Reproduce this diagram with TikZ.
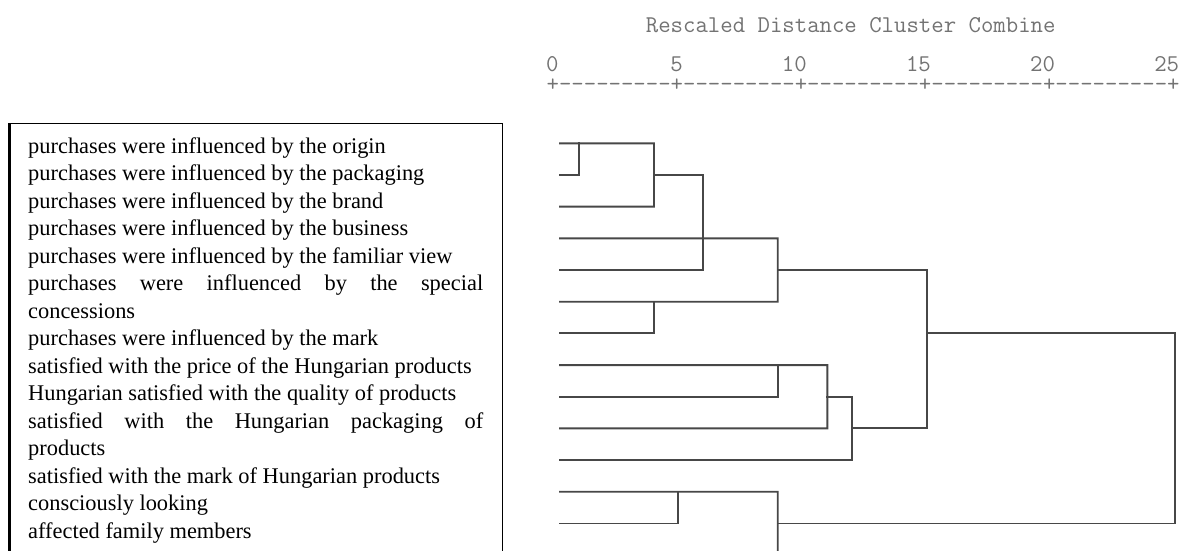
\documentclass[tikz,border=0pt]{standalone}
\usepackage{fontspec}
\setmainfont{Liberation Serif}[Ligatures=NoCommon]
\begin{document}
\begin{tikzpicture}[x=1pt,y=-1pt,
  lbl/.style={anchor=base west, inner sep=0pt, font=\fontsize{22.4}{27.5}\selectfont},
  den/.style={draw=black!72, line width=1.9pt, line cap=rect},
  mono/.style={inner sep=0pt, font=\ttfamily\fontsize{24.1}{26}\selectfont, text=black!55},
  boxline/.style={draw=black, line width=1.1pt}]
\useasboundingbox (0,0) rectangle (1184,551);
\clip (0,0) rectangle (1184,551);

% ---------- axis header ----------
\node[mono, anchor=base west] (title) at (645.7,33) {Rescaled Distance Cluster Combine};
\node[mono, anchor=base east] (n0)  at (558.8,72) {0};
\node[mono, anchor=base east] (n5)  at (682.9,72) {5};
\node[mono, anchor=base east] (n10) at (807.0,72) {10};
\node[mono, anchor=base east] (n15) at (931.1,72) {15};
\node[mono, anchor=base east] (n20) at (1055.2,72) {20};
\node[mono, anchor=base east] (n25) at (1179.3,72) {25};
\node[mono, anchor=base west] (axisline) at (546.4,92) {+---------+---------+---------+---------+---------+};

% ---------- label box ----------
\coordinate (bTL) at (9.5,123.3);
\coordinate (bTR) at (502.3,123.3);
\coordinate (bBL) at (9.5,560);
\coordinate (bBR) at (502.3,560);
\draw[boxline] (bBL) -- (bTL) -- (bTR) -- (bBR);
\draw[draw=black, line width=2.2pt] (bBL) -- (bTL);

\node[lbl] (t1)  at (28,153.0) {purchases were influenced by the origin};
\node[lbl] (t2)  at (28,180.5) {purchases were influenced by the packaging};
\node[lbl] (t3)  at (28,208.0) {purchases were influenced by the brand};
\node[lbl] (t4)  at (28,235.5) {purchases were influenced by the business};
\node[lbl] (t5)  at (28,263.0) {purchases were influenced by the familiar view};
\node[lbl] (t6)  at (28,290.5) {\makebox[455pt][s]{purchases were influenced by the special}};
\node[lbl] (t7)  at (28,318.0) {concessions};
\node[lbl] (t8)  at (28,345.5) {purchases were influenced by the mark};
\node[lbl] (t9)  at (28,373.0) {satisfied with the price of the Hungarian products};
\node[lbl] (t10) at (28,400.5) {Hungarian satisfied with the quality of products};
\node[lbl] (t11) at (28,428.0) {\makebox[455pt][s]{satisfied with the Hungarian packaging of}};
\node[lbl] (t12) at (28,455.5) {products};
\node[lbl] (t13) at (28,483.0) {satisfied with the mark of Hungarian products};
\node[lbl] (t14) at (28,510.5) {consciously looking};
\node[lbl] (t15) at (28,538.0) {affected family members};

% ---------- dendrogram ----------
\foreach \i in {1,...,14} {
  \coordinate (l\i) at (560,{143.3+31.68*(\i-1)});
}
\def\xa{579.3}\def\xb{654}\def\xc{678.3}\def\xd{703.3}\def\xe{777.7}
\def\xf{827.3}\def\xg{852.3}\def\xh{927.3}\def\xk{1175}
\coordinate (A1) at (\xa,143.3);
\coordinate (B1) at (\xb,143.3);
\coordinate (B2) at (\xb,174.98);
\coordinate (B3) at (\xb,206.66);
\coordinate (D2) at (\xd,174.98);
\coordinate (E4) at (\xe,238.34);
\coordinate (E5) at (\xe,270.02);
\coordinate (E6) at (\xe,301.7);
\coordinate (B6) at (\xb,301.7);
\coordinate (H5) at (\xh,270.02);
\coordinate (H7) at (\xh,333.38);
\coordinate (F8) at (\xf,365.06);
\coordinate (E8) at (\xe,365.06);
\coordinate (F9) at (\xf,396.74);
\coordinate (G9) at (\xg,396.74);
\coordinate (F10) at (\xf,428.42);
\coordinate (G10) at (\xg,428.42);
\coordinate (H10) at (\xh,428.42);
\coordinate (K7) at (\xk,333.38);
\coordinate (E12) at (\xe,491.78);
\coordinate (C12) at (\xc,491.78);
\coordinate (E13) at (\xe,523.46);
\coordinate (K13) at (\xk,523.46);
\coordinate (E14) at (\xe,555.14);

\draw[den] (l2) -| (A1);
\draw[den] (l1) -- (B1) -- (B3) -- (l3);
\draw[den] (B2) -- (D2);
\draw[den] (l5) -| (D2);
\draw[den] (l4) -- (E4) -- (E6) -- (l6);
\draw[den] (l7) -| (B6);
\draw[den] (E5) -- (H5);
\draw[den] (l8) -- (F8) -- (F10) -- (l10);
\draw[den] (l9) -| (E8);
\draw[den] (F9) -- (G9);
\draw[den] (l11) -| (G9);
\draw[den] (G10) -- (H10) -- (H5);
\draw[den] (H7) -- (K7) -- (K13) -- (E13);
\draw[den] (l12) -- (E12) -- (E14) -- (l14);
\draw[den] (l13) -| (C12);
\end{tikzpicture}
\end{document}
